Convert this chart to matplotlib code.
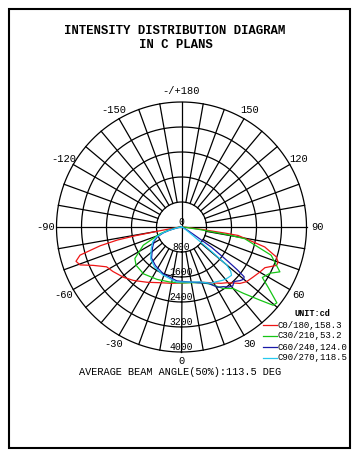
import numpy as np
import matplotlib
matplotlib.use("Agg")
import matplotlib.pyplot as plt
from matplotlib.patches import Rectangle

# Define constants
FIG_W, FIG_H = 357, 454
FONT = "Liberation Mono"

# rings of the diagram (cd) and angle labels (deg)
RING_VALUES = [800, 1600, 2400, 3200, 4000]
RING_LABELS = ["0", "800", "1600", "2400", "3200", "4000"]
ANGLE_TICKS = [0, 30, 60, 90, 120, 150, 180, -150, -120, -90, -60, -30]
ANGLE_TEXT = ["0", "30", "60", "90", "120", "150", "-/+180", "-150", "-120", "-90", "-60", "-30"]

# C0/180 plane
c0_angles = [-90, -85, -81, -80, -79.3, -78.5, -77, -74.5, -72, -69.5, -66.5, -62, -57, -49, -42,
             -32, -21, -10, 0, 10, 20, 27, 35, 39, 43, 46, 50, 55, 60, 64, 68, 70, 72.5, 76.5,
             79, 81.5, 82, 83, 86, 90]
c0_values = [0, 100, 400, 800, 1500, 2100, 2670, 3370, 3550, 3465, 3080, 2715, 2615, 2455, 2300,
             2085, 1910, 1830, 1790, 1800, 1880, 2000, 2200, 2295, 2450, 2600, 2720, 2795, 2890,
             2970, 3280, 3290, 3180, 2740, 2200, 1830, 1400, 700, 150, 0]

# C30/210 plane
c30_angles = [-90, -85, -80, -75, -72.5, -64.5, -56, -50, -39, -25, -12, 0, 10, 20, 27, 34, 40,
              43, 47, 49.5, 51.5, 55, 58, 62.5, 65.5, 72.5, 79.5, 80.5, 82, 85, 90]
c30_values = [0, 80, 200, 500, 720, 1355, 1800, 1900, 1930, 1850, 1800, 1790, 1810, 1900, 2050,
              2370, 2570, 2900, 3430, 3855, 3900, 3400, 3050, 3200, 3460, 3010, 2060, 1500, 600,
              150, 0]

# C60/240 plane
c60_angles = [-90, -80, -75, -72, -68, -62.5, -54, -44, -34, -21, -5, 0, 10, 16.5, 25, 31, 35,
              38, 41, 44, 47.5, 50, 51.5, 52.5, 53.5, 56, 58, 62, 70, 80, 90]
c60_values = [0, 120, 400, 620, 830, 990, 1150, 1380, 1490, 1610, 1730, 1740, 1790, 1860, 1980,
              2250, 2330, 2440, 2500, 2425, 2540, 2600, 2560, 2250, 1860, 1150, 500, 200, 60, 20, 0]

# C90/270 plane
c90_angles = [-90, -80, -75, -72, -68, -62.5, -54, -44, -34, -21, -5, 0, 10, 18.5, 27, 38, 42,
              46, 48, 50, 51, 53, 57, 65, 90]
c90_values = [0, 140, 430, 660, 880, 1040, 1200, 1420, 1540, 1650, 1770, 1760, 1790, 1850, 2020,
              2160, 2200, 2225, 2120, 1890, 1170, 500, 200, 60, 0]

SERIES = [
    ("C0/180,158.3", c0_angles, c0_values, "#ee1515"),
    ("C30/210,53.2", c30_angles, c30_values, "#15c515"),
    ("C60/240,124.0", c60_angles, c60_values, "#1a1aa8"),
    ("C90/270,118.5", c90_angles, c90_values, "#25c8ee"),
]


def px(x, y):
    # pixel position (from top left) -> figure fraction
    return x / FIG_W, 1 - y / FIG_H


def draw_grid(ax):
    theta = np.linspace(0, 2 * np.pi, 361)
    for r in RING_VALUES:
        ax.plot(theta, np.full_like(theta, r), color="black", lw=0.9, clip_on=False)
    # spokes every 10 deg from the first ring outwards
    for a in range(0, 360, 10):
        t = np.deg2rad(a)
        r0 = 0 if a % 90 == 0 else RING_VALUES[0]
        ax.plot([t, t], [r0, RING_VALUES[-1]], color="black", lw=0.9, clip_on=False)


def draw_labels(ax):
    for v, txt in zip([0] + RING_VALUES, RING_LABELS):
        ax.text(0, v, txt, ha="center", va="bottom", fontsize=7, family=FONT, zorder=5)
    for a, txt in zip(ANGLE_TICKS, ANGLE_TEXT):
        r = 4290 if a == 0 else 4340
        ax.text(np.deg2rad(a), r, txt, ha="center", va="center", fontsize=7.5, family=FONT)


if __name__ == "__main__":
    fig = plt.figure(figsize=(FIG_W / 100, FIG_H / 100), dpi=100)

    # outer frame
    fig.patches.append(Rectangle(px(9, 448), 341 / FIG_W, 439 / FIG_H, transform=fig.transFigure,
                                 fill=False, edgecolor="black", lw=1.5))

    cx, cy, rad = 181.5, 227, 125
    left, top = px(cx - rad, cy - rad)
    ax = fig.add_axes([left, top - 2 * rad / FIG_H, 2 * rad / FIG_W, 2 * rad / FIG_H],
                      projection="polar")
    ax.set_theta_zero_location("S")
    ax.set_theta_direction(1)
    ax.set_rlim(0, 4000)
    ax.set_xticks([])
    ax.set_yticks([])
    ax.grid(False)
    ax.spines["polar"].set_visible(False)

    draw_grid(ax)
    for name, angles, values, color in SERIES:
        ax.plot(np.deg2rad(angles), values, color=color, lw=0.9, zorder=4, clip_on=False)
    draw_labels(ax)

    # title
    fig.text(*px(175, 31), "INTENSITY DISTRIBUTION DIAGRAM", ha="center", va="center",
             fontsize=8.9, family=FONT, weight="bold")
    fig.text(*px(176, 44.5), "IN C PLANS", ha="center", va="center",
             fontsize=8.9, family=FONT, weight="bold")

    # legend
    fig.text(*px(312, 314), "UNIT:cd", ha="center", va="center", fontsize=6.2,
             family=FONT, weight="bold")
    for i, (name, angles, values, color) in enumerate(SERIES):
        y = 325 + i * 11
        x0, yy = px(263, y)
        x1, _ = px(277, y)
        fig.add_artist(plt.Line2D([x0, x1], [yy, yy], color=color, lw=0.9))
        fig.text(*px(278, y), name, ha="left", va="center", fontsize=6.5, family=FONT)

    fig.text(*px(180.5, 372), "AVERAGE BEAM ANGLE(50%):113.5 DEG", ha="center", va="center",
             fontsize=7.4, family=FONT)

    fig.savefig("out.png", dpi=100)
